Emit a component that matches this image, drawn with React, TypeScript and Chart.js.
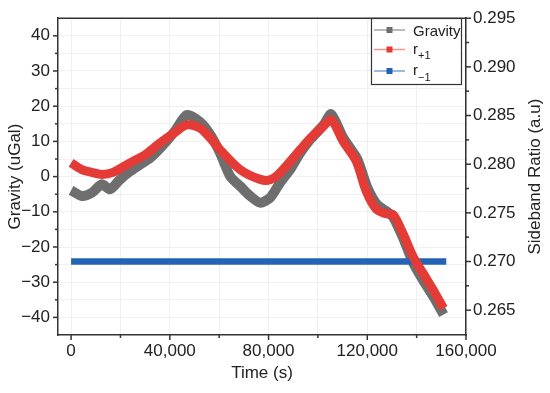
import React, { useEffect, useRef } from 'react';
import { Chart, registerables } from 'chart.js';

Chart.register(...registerables);

// ---- Data ----
const gravityTime = [0, 4340, 8390, 12440, 15810, 19860, 23910, 27970, 32020, 36760, 42150, 46890, 52280, 56330, 60390, 64440, 68490, 72540, 76600, 80650, 84700, 88760, 92810, 96860, 102130, 105380, 110240, 115920, 119970, 124020, 128070, 130500, 134560, 138610, 142660, 146720, 150890];
const gravityValue = [-3.9, -5.5, -4.6, -2.2, -3.6, -0.8, 1.5, 3.4, 5.3, 8.6, 13, 17.5, 15.5, 12, 6.7, 0.1, -2.7, -5.5, -7.4, -6, -1.7, 2, 6.7, 10.5, 14.5, 17.7, 11, 5, -3, -8, -10, -11.5, -17.5, -24.5, -29.5, -34, -39.2];

const rPlusTime = [0, 4340, 8390, 12440, 17000, 23910, 30000, 35000, 42000, 46890, 52000, 56000, 60390, 68490, 76600, 80650, 84700, 92810, 97000, 102000, 105400, 110240, 115500, 119500, 123600, 127600, 130500, 134560, 138610, 142660, 146720, 150890];
const rPlusValue = [0.28014, 0.27945, 0.27916, 0.27895, 0.27916, 0.28014, 0.28097, 0.28198, 0.28325, 0.28404, 0.28375, 0.28281, 0.28148, 0.27945, 0.27844, 0.2784, 0.27913, 0.28148, 0.28267, 0.28386, 0.28455, 0.28234, 0.28032, 0.27728, 0.2754, 0.2749, 0.27482, 0.27283, 0.27048, 0.26878, 0.26708, 0.2652];

const rMinusTime = [0, 40000, 80000, 120000, 152000];
const rMinusValue = [0.27, 0.27, 0.27, 0.27, 0.27];

const xTickValues = [0, 20000, 40000, 60000, 80000, 100000, 120000, 140000, 160000];
const leftTickValues = [-40, -35, -30, -25, -20, -15, -10, -5, 0, 5, 10, 15, 20, 25, 30, 35, 40];
const rightTickValues = [0.265, 0.2675, 0.27, 0.2725, 0.275, 0.2775, 0.28, 0.2825, 0.285, 0.2875, 0.29, 0.2925, 0.295];

const seriesNames = ['Gravity', 'r+1', 'r\u22121'];
const seriesColors = ['#6e6e6e', '#e53b36', '#2563b5'];
const legendLineColors = ['#a3a3a3', '#f29490', '#7aa2da'];

const FONT = '"Liberation Sans", Arial, Helvetica, sans-serif';
const AXIS = '#333333';
const TEXT = '#222222';

const isMajorX = (v: number) => v % 40000 === 0;
const isMajorL = (v: number) => v % 10 === 0;
const isMajorR = (v: number) => Math.abs(v * 200 - Math.round(v * 200)) < 1e-6;

export default function App() {
  const ref = useRef<HTMLCanvasElement>(null);

  useEffect(() => {
    document.body.style.margin = '0';
    const canvas = ref.current;
    if (!canvas) return;

    const decor = {
      id: 'decor',
      afterDraw(chart: any) {
        const ctx = chart.ctx as CanvasRenderingContext2D;
        const ca = chart.chartArea;
        const line = (x1: number, y1: number, x2: number, y2: number) => {
          ctx.beginPath();
          ctx.moveTo(x1, y1);
          ctx.lineTo(x2, y2);
          ctx.stroke();
        };
        ctx.save();
        ctx.strokeStyle = AXIS;
        ctx.lineWidth = 1.5;
        line(ca.left, ca.top, ca.right, ca.top);
        const xs = chart.scales.x;
        for (const v of xTickValues) {
          const p = xs.getPixelForValue(v);
          line(p, ca.bottom, p, ca.bottom + (isMajorX(v) ? 5 : 3));
        }
        const ys = chart.scales.y;
        for (const v of leftTickValues) {
          const p = ys.getPixelForValue(v);
          line(ca.left - (isMajorL(v) ? 5 : 3), p, ca.left, p);
        }
        const y1 = chart.scales.y1;
        for (const v of rightTickValues) {
          const p = y1.getPixelForValue(v);
          line(ca.right, p, ca.right + (isMajorR(v) ? 5 : 3), p);
        }

        // right axis title (reads bottom to top)
        ctx.save();
        ctx.translate(535, (ca.top + ca.bottom) / 2);
        ctx.rotate(-Math.PI / 2);
        ctx.font = `17px ${FONT}`;
        ctx.fillStyle = TEXT;
        ctx.textAlign = 'center';
        ctx.textBaseline = 'middle';
        ctx.fillText('Sideband Ratio (a.u)', 0, 0);
        ctx.restore();

        // legend box
        const bx = 371.5, by = 18.5, bw = 90, bh = 66;
        ctx.fillStyle = '#ffffff';
        ctx.fillRect(bx, by, bw, bh);
        ctx.strokeStyle = AXIS;
        ctx.lineWidth = 1.2;
        ctx.strokeRect(bx, by, bw, bh);
        const rowsY = [30, 49.5, 71];
        const baseOff = [5.5, 4, 4];
        seriesNames.forEach((name, i) => {
          const yy = rowsY[i];
          ctx.strokeStyle = legendLineColors[i];
          ctx.lineWidth = 1.5;
          line(374, yy, 405, yy);
          ctx.fillStyle = seriesColors[i];
          ctx.fillRect(386.5, yy - 3, 6, 6);
          ctx.fillStyle = TEXT;
          ctx.textAlign = 'left';
          ctx.textBaseline = 'alphabetic';
          ctx.font = `15px ${FONT}`;
          if (name === 'Gravity') {
            ctx.fillText(name, 413, yy + baseOff[i]);
          } else {
            const main = name.slice(0, 1);
            const sub = name.slice(1);
            ctx.fillText(main, 413, yy + baseOff[i]);
            const w = ctx.measureText(main).width;
            ctx.font = `11px ${FONT}`;
            ctx.fillText(sub, 413 + w, yy + baseOff[i] + 5.5);
          }
        });
        ctx.restore();
      },
    };

    const chart = new Chart(canvas, {
      type: 'line',
      data: {
        datasets: [
          {
            label: seriesNames[0],
            data: gravityTime.map((t, i) => ({ x: t, y: gravityValue[i] })),
            yAxisID: 'y',
            borderColor: seriesColors[0],
            backgroundColor: seriesColors[0],
            borderWidth: 10,
            pointRadius: 0,
            tension: 0.25,
            borderJoinStyle: 'round',
            borderCapStyle: 'butt',
            order: 3,
          },
          {
            label: seriesNames[1],
            data: rPlusTime.map((t, i) => ({ x: t, y: rPlusValue[i] })),
            yAxisID: 'y1',
            borderColor: seriesColors[1],
            backgroundColor: seriesColors[1],
            borderWidth: 9,
            pointRadius: 0,
            tension: 0.3,
            borderJoinStyle: 'round',
            borderCapStyle: 'butt',
            order: 1,
          },
          {
            label: seriesNames[2],
            data: rMinusTime.map((t, i) => ({ x: t, y: rMinusValue[i] })),
            yAxisID: 'y1',
            borderColor: seriesColors[2],
            backgroundColor: seriesColors[2],
            borderWidth: 6.5,
            pointRadius: 0,
            tension: 0,
            borderCapStyle: 'butt',
            order: 2,
          },
        ],
      },
      options: {
        responsive: false,
        animation: false,
        events: [],
        layout: { padding: { top: 16, left: 0, right: 0, bottom: 0 } },
        plugins: { legend: { display: false }, tooltip: { enabled: false } },
        scales: {
          x: {
            type: 'linear',
            position: 'bottom',
            min: -5300,
            max: 160000,
            afterBuildTicks: (s: any) => { s.ticks = xTickValues.map((v) => ({ value: v })); },
            afterFit: (s: any) => { s.height = 58; },
            grid: { color: '#f0f0f0', lineWidth: 1, drawTicks: false },
            border: { display: true, color: AXIS, width: 1.5 },
            ticks: {
              padding: 6,
              color: TEXT,
              font: { family: FONT, size: 17 },
              maxRotation: 0,
              autoSkip: false,
              callback: (v: any) => (isMajorX(Number(v)) ? Number(v).toLocaleString('en-US') : ''),
            },
            title: {
              display: true,
              text: 'Time (s)',
              color: TEXT,
              font: { family: FONT, size: 17 },
              padding: { top: 0, bottom: 9 },
            },
          },
          y: {
            type: 'linear',
            position: 'left',
            min: -45,
            max: 45,
            afterBuildTicks: (s: any) => { s.ticks = leftTickValues.map((v) => ({ value: v })); },
            afterFit: (s: any) => { s.width = 58; },
            grid: { color: '#f0f0f0', lineWidth: 1, drawTicks: false },
            border: { display: true, color: AXIS, width: 1.5 },
            ticks: {
              padding: 8,
              color: TEXT,
              font: { family: FONT, size: 17 },
              autoSkip: false,
              callback: (v: any) => (isMajorL(Number(v)) ? String(v).replace('-', '\u2212') : ''),
            },
            title: {
              display: true,
              text: 'Gravity (uGal)',
              color: TEXT,
              font: { family: FONT, size: 17 },
              padding: { top: 5, bottom: 0 },
            },
          },
          y1: {
            type: 'linear',
            position: 'right',
            min: 0.26245,
            max: 0.295,
            afterBuildTicks: (s: any) => { s.ticks = rightTickValues.map((v) => ({ value: v })); },
            afterFit: (s: any) => { s.width = 84; },
            grid: { display: false, drawTicks: false },
            border: { display: true, color: AXIS, width: 1.5 },
            ticks: {
              padding: 7,
              color: TEXT,
              font: { family: FONT, size: 17 },
              autoSkip: false,
              callback: (v: any) => (isMajorR(Number(v)) ? Number(v).toFixed(3) : ''),
            },
          },
        },
      },
      plugins: [decor],
    } as any);

    return () => chart.destroy();
  }, []);

  return (
    <div style={{ position: 'fixed', left: 0, top: 0, width: 550, height: 393, background: '#ffffff' }}>
      <canvas ref={ref} width={550} height={393} style={{ display: 'block', width: 550, height: 393 }} />
    </div>
  );
}
